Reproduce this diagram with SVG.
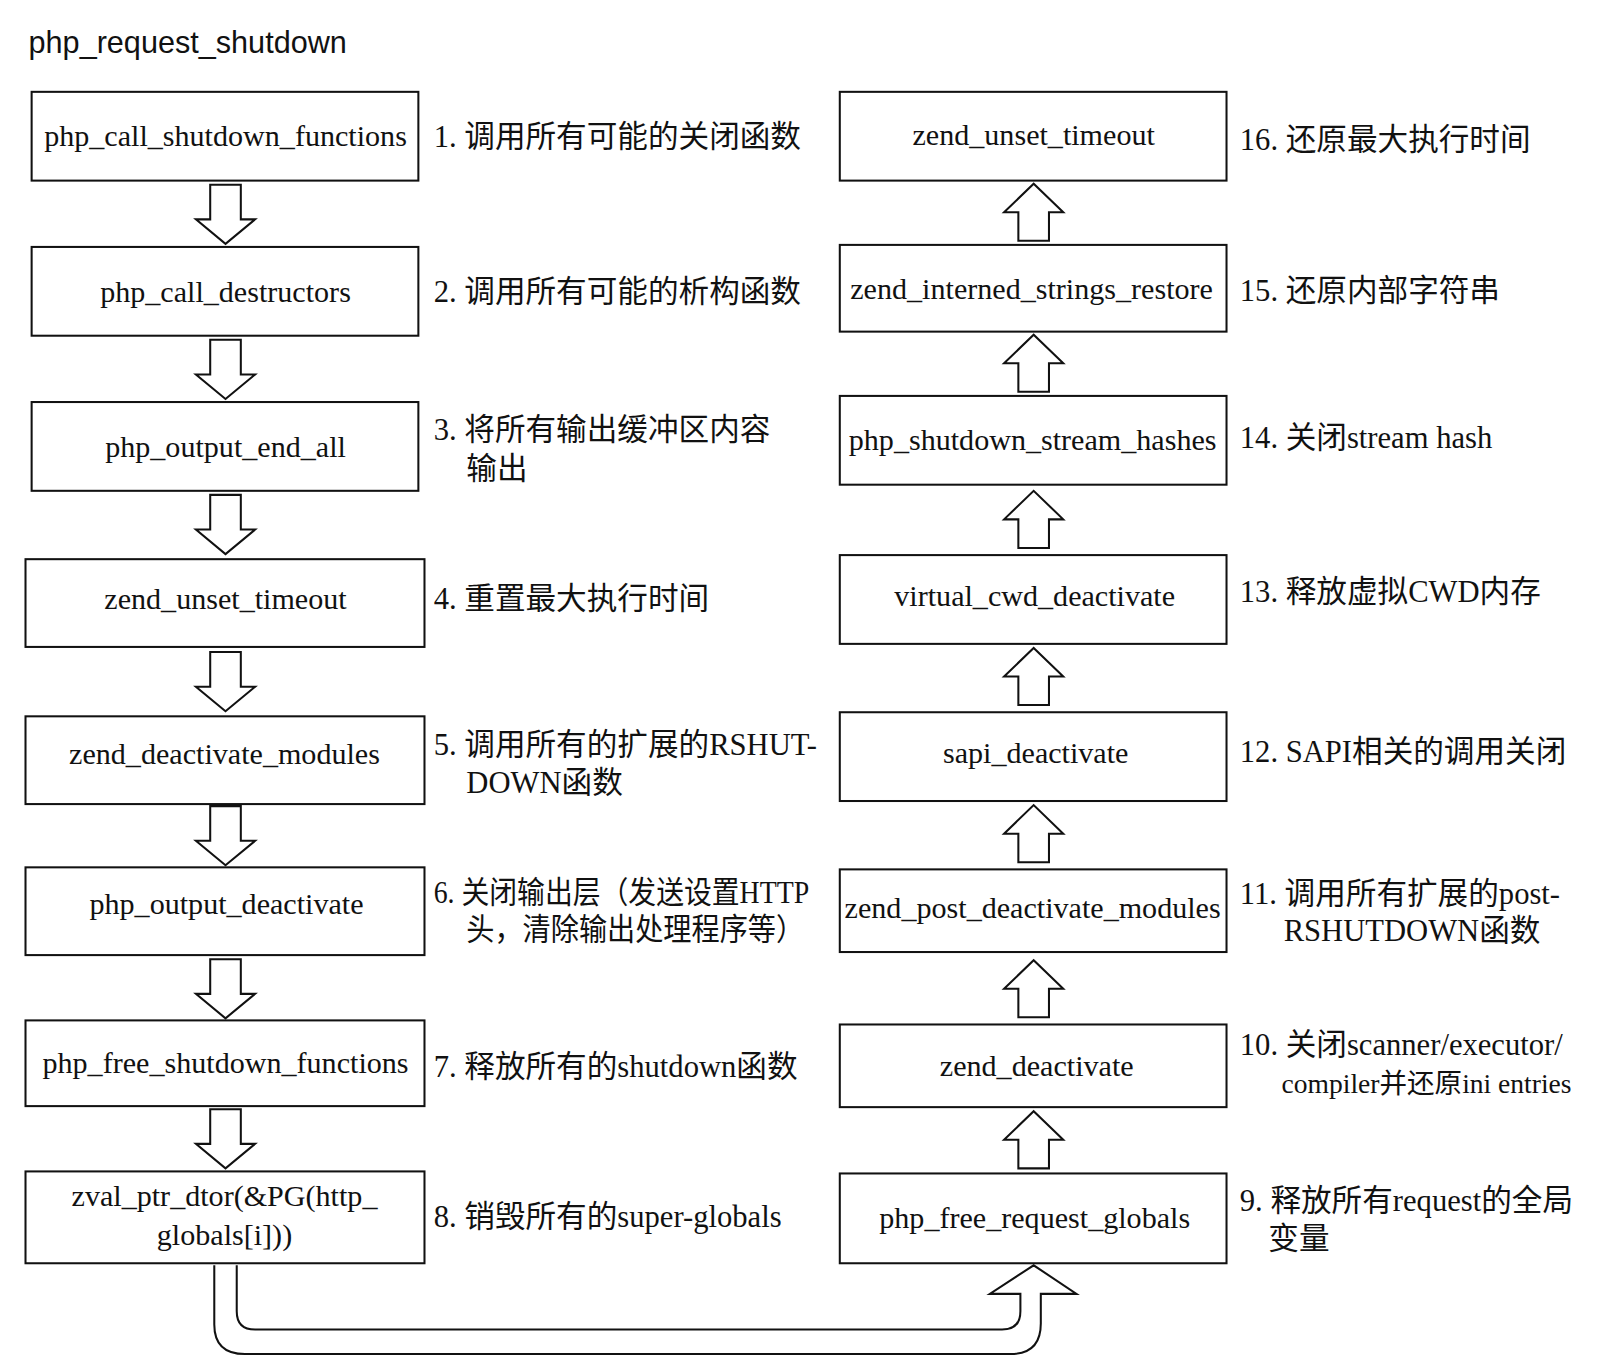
<svg xmlns="http://www.w3.org/2000/svg" width="1600" height="1372" viewBox="0 0 1600 1372">
<style>
.box{fill:#fff;stroke:#111;stroke-width:2}
.bt{font-family:"Liberation Serif","Times New Roman",serif;font-size:29.5px;fill:#111;text-anchor:middle}
.lb{font-family:"Liberation Serif","Noto Sans CJK SC",serif;font-size:30px;fill:#111}
.lbs{font-size:27px}
.ttl{font-family:"Liberation Sans",Arial,sans-serif;font-size:30px;fill:#111}
.ar{fill:#fff;stroke:#111;stroke-width:2;stroke-linejoin:miter}
</style>
<defs>
<path id="down" d="M-15,0 H15 V34 H29 L0,58 L-29,34 H-15 Z"/>
<path id="up" d="M-15,56 H15 V28 H29 L0,0 L-29,28 H-15 Z"/>
</defs>
<rect width="1600" height="1372" fill="#fff"/>
<g transform="scale(1.0204)">
<text class="ttl" x="28" y="52">php_request_shutdown</text>

<g id="n1"><rect class="box" x="31" y="90" width="379" height="87"/><text class="bt" x="221" y="143">php_call_shutdown_functions</text><text class="lb" x="425" y="144">1. 调用所有可能的关闭函数</text></g>
<g id="n2"><rect class="box" x="31" y="242" width="379" height="87"/><text class="bt" x="221" y="296">php_call_destructors</text><text class="lb" x="425" y="296">2. 调用所有可能的析构函数</text></g>
<g id="n3"><rect class="box" x="31" y="394" width="379" height="87"/><text class="bt" x="221" y="448">php_output_end_all</text><text class="lb" x="425" y="431">3. 将所有输出缓冲区内容</text><text class="lb" x="457" y="469">输出</text></g>
<g id="n4"><rect class="box" x="25" y="548" width="391" height="86"/><text class="bt" x="221" y="597">zend_unset_timeout</text><text class="lb" x="425" y="597">4. 重置最大执行时间</text></g>
<g id="n5"><rect class="box" x="25" y="702" width="391" height="86"/><text class="bt" x="220" y="749">zend_deactivate_modules</text><text class="lb" x="425" y="740">5. 调用所有的扩展的RSHUT-</text><text class="lb" x="457" y="777">DOWN函数</text></g>
<g id="n6"><rect class="box" x="25" y="850" width="391" height="86"/><text class="bt" x="222" y="896">php_output_deactivate</text><text class="lb" x="425" y="885" textLength="368" lengthAdjust="spacingAndGlyphs">6. 关闭输出层（发送设置HTTP</text><text class="lb" x="457" y="921" textLength="331" lengthAdjust="spacingAndGlyphs">头，清除输出处理程序等）</text></g>
<g id="n7"><rect class="box" x="25" y="1000" width="391" height="84"/><text class="bt" x="221" y="1052">php_free_shutdown_functions</text><text class="lb" x="425" y="1055">7. 释放所有的shutdown函数</text></g>
<g id="n8"><rect class="box" x="25" y="1148" width="391" height="90"/><text class="bt" x="220" y="1182">zval_ptr_dtor(&amp;PG(http_</text><text class="bt" x="220" y="1220">globals[i]))</text><text class="lb" x="425" y="1202">8. 销毁所有的super-globals</text></g>

<g id="n16"><rect class="box" x="823" y="90" width="379" height="87"/><text class="bt" x="1013" y="142">zend_unset_timeout</text><text class="lb" x="1215" y="147">16. 还原最大执行时间</text></g>
<g id="n15"><rect class="box" x="823" y="240" width="379" height="85"/><text class="bt" x="1011" y="293">zend_interned_strings_restore</text><text class="lb" x="1215" y="295">15. 还原内部字符串</text></g>
<g id="n14"><rect class="box" x="823" y="388" width="379" height="87"/><text class="bt" x="1012" y="441">php_shutdown_stream_hashes</text><text class="lb" x="1215" y="439">14. 关闭stream hash</text></g>
<g id="n13"><rect class="box" x="823" y="544" width="379" height="87"/><text class="bt" x="1014" y="594">virtual_cwd_deactivate</text><text class="lb" x="1215" y="590">13. 释放虚拟CWD内存</text></g>
<g id="n12"><rect class="box" x="823" y="698" width="379" height="87"/><text class="bt" x="1015" y="748">sapi_deactivate</text><text class="lb" x="1215" y="747">12. SAPI相关的调用关闭</text></g>
<g id="n11"><rect class="box" x="823" y="852" width="379" height="81"/><text class="bt" x="1012" y="900">zend_post_deactivate_modules</text><text class="lb" x="1215" y="886">11. 调用所有扩展的post-</text><text class="lb" x="1258" y="922">RSHUTDOWN函数</text></g>
<g id="n10"><rect class="box" x="823" y="1004" width="379" height="81"/><text class="bt" x="1016" y="1054">zend_deactivate</text><text class="lb" x="1215" y="1034">10. 关闭scanner/executor/</text><text class="lb lbs" x="1256" y="1071">compiler并还原ini entries</text></g>
<g id="n9"><rect class="box" x="823" y="1150" width="379" height="88"/><text class="bt" x="1014" y="1203">php_free_request_globals</text><text class="lb" x="1215" y="1187">9. 释放所有request的全局</text><text class="lb" x="1243" y="1224">变量</text></g>

<g id="connectors">
<use href="#down" class="ar" x="221" y="181"/>
<use href="#down" class="ar" x="221" y="333"/>
<use href="#down" class="ar" x="221" y="485"/>
<use href="#down" class="ar" x="221" y="639"/>
<use href="#down" class="ar" x="221" y="790"/>
<use href="#down" class="ar" x="221" y="940"/>
<use href="#down" class="ar" x="221" y="1087"/>
<use href="#up" class="ar" x="1013" y="180"/>
<use href="#up" class="ar" x="1013" y="328"/>
<use href="#up" class="ar" x="1013" y="481"/>
<use href="#up" class="ar" x="1013" y="635"/>
<use href="#up" class="ar" x="1013" y="789"/>
<use href="#up" class="ar" x="1013" y="941"/>
<use href="#up" class="ar" x="1013" y="1089"/>
<path class="ar" d="M210,1240 V1298 Q210,1327 240,1327 H990 Q1020,1327 1020,1297 V1268 H1055 L1013,1240 L970,1268 H1000 V1285 Q1000,1303 982,1303 H250 Q232,1303 232,1285 V1240"/>
</g>
</g>
</svg>
